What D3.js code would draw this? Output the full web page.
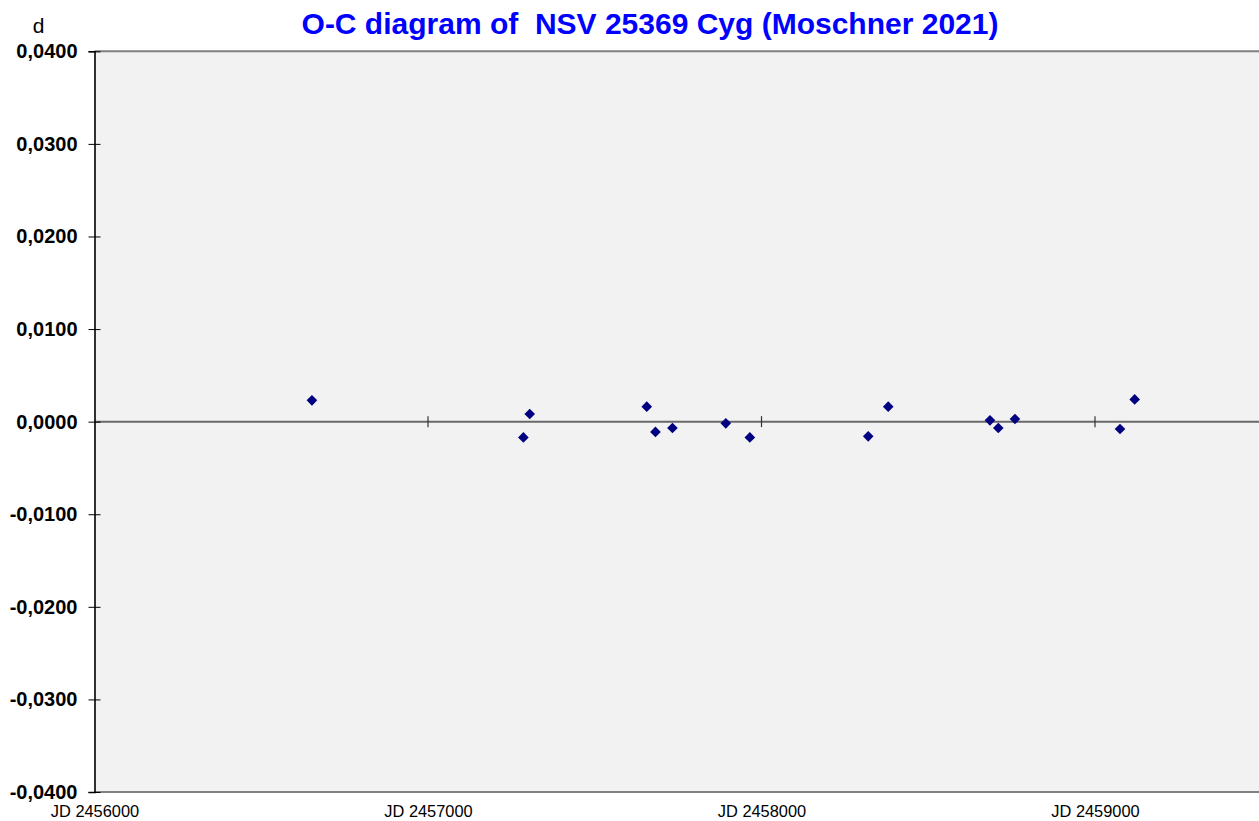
<!DOCTYPE html>
<html><head><meta charset="utf-8">
<script src="https://cdn.jsdelivr.net/npm/d3@7"></script>
<style>body{margin:0;background:#fff;overflow:hidden}svg{display:block}</style>
</head><body>
<svg id="c" width="1259" height="821"></svg>
<script>
const titleText = "O-C diagram of  NSV 25369 Cyg (Moschner 2021)";
const yUnit = "d";
const jd = [2456652, 2457286, 2457305, 2457656, 2457682, 2457733, 2457893, 2457965, 2458320, 2458380, 2458685, 2458710, 2458760, 2459075, 2459119];
const oc = [0.0023, -0.0017, 0.00083, 0.00162, -0.00111, -0.00068, -0.00018, -0.0017, -0.00159, 0.00162, 0.00014, -0.00068, 0.00029, -0.00079, 0.0024];
const xTicks = [2456000, 2457000, 2458000, 2459000];
const yTicks = [0.04, 0.03, 0.02, 0.01, 0, -0.01, -0.02, -0.03, -0.04];
const xDomain = [2456000, 2459500];
const yDomain = [-0.04, 0.04];

const svg = d3.select("#c");
const L = 94.5, T = 51.3, B = 792;
const x = d3.scaleLinear().domain(xDomain).range([L, L + 3500 * 0.3335]);
const y = d3.scaleLinear().domain(yDomain).range([B, T]);
const R = 1259;

svg.append("rect").attr("x", L).attr("y", T).attr("width", R - L).attr("height", B - T).attr("fill", "#f2f2f2");
svg.append("line").attr("x1", L).attr("x2", R).attr("y1", T).attr("y2", T).attr("stroke", "#808080").attr("stroke-width", 2);
svg.append("line").attr("x1", L).attr("x2", R).attr("y1", B).attr("y2", B).attr("stroke", "#808080").attr("stroke-width", 2);

const y0 = y(0);
svg.append("line").attr("x1", L).attr("x2", R).attr("y1", y0).attr("y2", y0).attr("stroke", "#686868").attr("stroke-width", 2);
svg.append("g").selectAll("line").data(xTicks.slice(1)).join("line")
  .attr("x1", d => x(d)).attr("x2", d => x(d)).attr("y1", y0 - 5.5).attr("y2", y0 + 5.5)
  .attr("stroke", "#333").attr("stroke-width", 1.2);

const yAxis = d3.axisLeft(y).tickValues(yTicks).tickSize(6).tickPadding(10)
  .tickFormat(d => d3.format(".4f")(d).replace(".", ",").replace("−", "-"));
const gy = svg.append("g").attr("transform", `translate(${L},0)`).call(yAxis);
gy.select(".domain").attr("stroke", "#000").attr("stroke-width", 1.6);
gy.selectAll(".tick line").attr("x1", -6).attr("x2", 6).attr("stroke", "#000").attr("stroke-width", 1);
gy.selectAll(".tick text").attr("x", -17).attr("font-family", "Liberation Sans, Arial, sans-serif")
  .attr("font-size", 20).attr("font-weight", "bold").attr("fill", "#000");

const xAxis = d3.axisBottom(x).tickValues(xTicks).tickSize(0).tickPadding(10).tickFormat(d => "JD " + d);
const gx = svg.append("g").attr("transform", `translate(0,${B})`).call(xAxis);
gx.select(".domain").remove();
gx.selectAll(".tick text").attr("font-family", "Liberation Sans, Arial, sans-serif")
  .attr("font-size", 16.4).attr("fill", "#000").attr("dy", "0.71em").attr("y", 13);

const sym = d3.symbol().type(d3.symbolDiamond2).size(72);
svg.append("g").selectAll("path").data(jd.map((d, i) => [d, oc[i]])).join("path")
  .attr("transform", d => `translate(${x(d[0])},${y(d[1])})`)
  .attr("d", sym).attr("fill", "#000080");

svg.append("text").attr("x", 650).attr("y", 33.5).attr("text-anchor", "middle")
  .attr("font-family", "Liberation Sans, Arial, sans-serif").attr("font-size", 30).attr("font-weight", "bold")
  .attr("fill", "#0000ff").attr("xml:space", "preserve").style("white-space", "pre").text(titleText);
svg.append("text").attr("x", 38.5).attr("y", 33.3).attr("text-anchor", "middle")
  .attr("font-family", "Liberation Sans, Arial, sans-serif").attr("font-size", 21).attr("fill", "#000").text(yUnit);
</script>
</body></html>
